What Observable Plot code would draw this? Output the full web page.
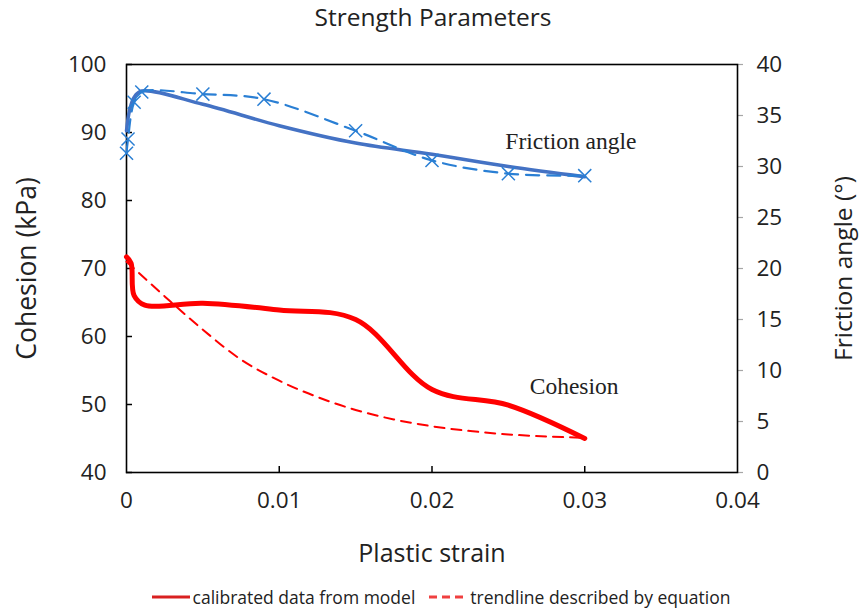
<!DOCTYPE html>
<html>
<head>
<meta charset="utf-8">
<script src="https://cdn.jsdelivr.net/npm/d3@7"></script>
<script src="https://cdn.jsdelivr.net/npm/@observablehq/plot@0.6"></script>
<style>
  body { margin: 0; background: #fff; font-family: "Open Sans", sans-serif; color: #222; }
  #wrap { width: 860px; height: 613px; overflow: hidden; }
  #title { height: 40px; line-height: 34px; text-align: center; font-size: 24.5px; padding-left: 6px; }
  #legend { height: 33px; display: flex; justify-content: center; align-items: center; font-size: 17.5px; padding-left: 22px; }
  #legend .item { display: flex; align-items: center; margin: 0 7px; }
  #legend svg { margin-right: 3px; }
</style>
</head>
<body>
<div id="wrap">
  <div id="title">Strength Parameters</div>
  <div id="chart"></div>
  <div id="legend"></div>
</div>
<script>
// Plastic strain axis
const strainTicks = [0, 0.01, 0.02, 0.03, 0.04];
const strainTickLabels = ["0", "0.01", "0.02", "0.03", "0.04"];

// Cohesion axis (left, kPa) and friction angle axis (right, degrees)
const cohesionTicks = [40, 50, 60, 70, 80, 90, 100];
const frictionTicks = [0, 5, 10, 15, 20, 25, 30, 35, 40];

// Friction angle: calibrated from model (solid)
const frictionModelStrain = [0, 0.0002, 0.0005, 0.001, 0.005, 0.01, 0.015, 0.02, 0.025, 0.03];
const frictionModel = [33.5, 35.5, 36.8, 37.4, 36.1, 34.0, 32.3, 31.2, 30.0, 29.0];

// Friction angle: trendline (dashed, with markers)
const frictionTrendStrain = [0, 0.0001, 0.0005, 0.001, 0.005, 0.009, 0.015, 0.02, 0.025, 0.03];
const frictionTrend = [31.3, 32.7, 36.3, 37.3, 37.1, 36.6, 33.5, 30.6, 29.3, 29.1];

// Cohesion: calibrated from model (solid)
const cohesionModelStrain = [0, 0.0003, 0.0005, 0.0012, 0.005, 0.01, 0.015, 0.02, 0.025, 0.03];
const cohesionModel = [71.7, 70.8, 66.0, 64.6, 64.9, 63.9, 62.5, 52.2, 49.9, 45.0];

// Cohesion: trendline (dashed)
const cohesionTrendStrain = [0, 0.0025, 0.005, 0.0075, 0.01, 0.0125, 0.015, 0.0175, 0.02, 0.0225, 0.025, 0.0275, 0.03];
const cohesionTrend = [71.0, 65.9, 61.0, 56.6, 53.5, 51.1, 49.2, 47.8, 46.8, 46.1, 45.6, 45.3, 45.1];

// friction angle (0–40°) shares the vertical extent of cohesion (40–100 kPa)
const toC = f => 40 + f * 1.5;

const RED = "#ff0000";
const BLUE_MODEL = "#4472c4";
const BLUE_TREND = "#2a7fd4";
const TICK_FONT = 22.5;

const chart = Plot.plot({
  width: 860,
  height: 540,
  marginLeft: 126,
  marginRight: 123,
  marginTop: 24,
  marginBottom: 108,
  style: { fontFamily: "Open Sans, sans-serif", fontSize: "20px", color: "#222", background: "white", overflow: "visible" },
  x: { domain: [0, 0.04] },
  y: { domain: [40, 100] },
  marks: [
    // left axis: labels and inward ticks
    Plot.axisY(cohesionTicks, { anchor: "left", tickSize: 0, tickPadding: 20, stroke: "none", label: null, fontSize: TICK_FONT }),
    Plot.axisY(cohesionTicks, { anchor: "left", tickSize: 6, dx: 6, fill: "none", stroke: "black", strokeWidth: 1.5, label: null }),
    // right axis: grey outward ticks and labels
    Plot.axisY(frictionTicks.map(toC), { anchor: "right", tickSize: 5, fill: "none", stroke: "#a6a6a6", strokeWidth: 1.2, label: null }),
    Plot.axisY(frictionTicks.map(toC), { anchor: "right", tickSize: 0, tickPadding: 19, stroke: "none", label: null, fontSize: TICK_FONT,
      tickFormat: v => String(frictionTicks[frictionTicks.map(toC).indexOf(v)]) }),
    // bottom axis: labels and inward ticks
    Plot.axisX(strainTicks, { anchor: "bottom", tickSize: 0, tickPadding: 20, stroke: "none", label: null, fontSize: TICK_FONT,
      tickFormat: v => strainTickLabels[strainTicks.indexOf(v)] }),
    Plot.axisX(strainTicks.slice(1, -1), { anchor: "bottom", tickSize: 6, dy: -6, fill: "none", stroke: "black", strokeWidth: 1.5, label: null }),
    Plot.frame({ stroke: "black", strokeWidth: 1.6 }),

    // axis titles
    Plot.text(["Cohesion (kPa)"], { frameAnchor: "left", dx: -99, rotate: -90, textAnchor: "middle", fontSize: 26.5, fill: "#222" }),
    Plot.text(["Friction angle (°)"], { frameAnchor: "right", dx: 107, rotate: -90, textAnchor: "middle", fontSize: 24.5, fill: "#222" }),
    Plot.text(["Plastic strain"], { frameAnchor: "bottom", dy: 89, fontSize: 25, fill: "#222" }),

    // cohesion
    Plot.line(cohesionModel, { x: cohesionModelStrain, y: cohesionModel, stroke: RED, strokeWidth: 5, curve: "catmull-rom" }),
    Plot.line(cohesionTrend, { x: cohesionTrendStrain, y: cohesionTrend, stroke: RED, strokeWidth: 2, strokeDasharray: "10,7", curve: "catmull-rom" }),

    // friction angle
    Plot.line(frictionModel, { x: frictionModelStrain, y: frictionModel.map(toC), stroke: BLUE_MODEL, strokeWidth: 3.5, curve: "catmull-rom" }),
    Plot.line(frictionTrend, { x: frictionTrendStrain, y: frictionTrend.map(toC), stroke: BLUE_TREND, strokeWidth: 2.2, strokeDasharray: "13,8", curve: "catmull-rom" }),
    Plot.dot(frictionTrend, { x: frictionTrendStrain, y: frictionTrend.map(toC), symbol: "times", r: 6, stroke: BLUE_TREND, strokeWidth: 1.5 }),

    // series annotations
    Plot.text(["Friction angle"], { x: [0.0248], y: [toC(32.5)], textAnchor: "start", fontFamily: "Liberation Serif, serif", fontSize: 23.5, fill: "#222" }),
    Plot.text(["Cohesion"], { x: [0.0264], y: [52.7], textAnchor: "start", fontFamily: "Liberation Serif, serif", fontSize: 23.5, fill: "#222" })
  ]
});
document.getElementById("chart").appendChild(chart);

// legend below the chart
const legendItems = [
  { label: "calibrated data from model", dash: null, color: "#d92020" },
  { label: "trendline described by equation", dash: "8,5", color: "#f04040" }
];
const legend = d3.select("#legend");
for (const item of legendItems) {
  const div = legend.append("div").attr("class", "item");
  const svg = div.append("svg").attr("width", 38).attr("height", 10);
  svg.append("line").attr("x1", 0).attr("x2", 38).attr("y1", 5).attr("y2", 5)
    .attr("stroke", item.color).attr("stroke-width", 3)
    .attr("stroke-dasharray", item.dash);
  div.append("span").text(item.label);
}
</script>
</body>
</html>
